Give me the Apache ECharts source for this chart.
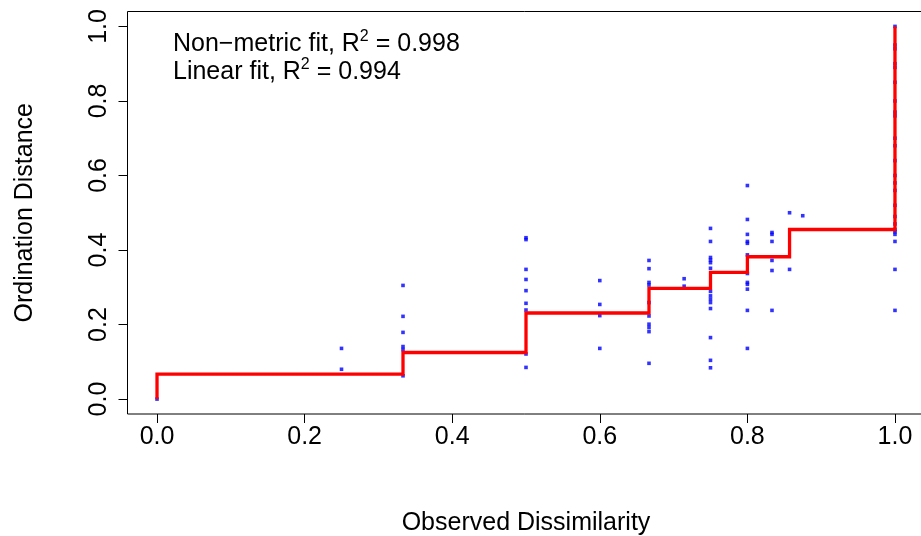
<!DOCTYPE html>
<html>
<head>
<meta charset="utf-8">
<script src="https://cdn.jsdelivr.net/npm/echarts@6/dist/echarts.min.js"></script>
<style>html,body{margin:0;padding:0;background:#fff;}#chart{width:921px;height:536px;}</style>
</head>
<body>
<div id="chart"></div>
<script>
// Observed dissimilarity groups and the ordination distances read for each
const col_000 = [0.0];
const col_250 = [0.136, 0.080];
const col_333 = [0.305, 0.222, 0.179, 0.141, 0.133, 0.0625];
const col_500 = [0.433, 0.428, 0.348, 0.321, 0.291, 0.257, 0.239, 0.121, 0.085];
const col_600 = [0.318, 0.254, 0.224, 0.136];
const col_667 = [0.372, 0.350, 0.313, 0.306, 0.259, 0.223, 0.201, 0.192, 0.181, 0.096];
const col_714 = [0.323, 0.303];
const col_750 = [0.458, 0.423, 0.380, 0.373, 0.366, 0.351, 0.289, 0.277, 0.268, 0.259, 0.243, 0.165, 0.104, 0.084];
const col_800 = [0.573, 0.482, 0.442, 0.423, 0.418, 0.387, 0.337, 0.313, 0.308, 0.295, 0.238, 0.136];
const col_833 = [0.447, 0.442, 0.423, 0.372, 0.345, 0.238];
const col_857 = [0.500, 0.348];
const col_875 = [0.492];
const col_1000 = [1.0, 0.95, 0.94, 0.90, 0.89, 0.85, 0.80, 0.77, 0.76, 0.70, 0.68, 0.64, 0.60, 0.58, 0.56, 0.52, 0.49, 0.47, 0.455, 0.449, 0.442, 0.423, 0.348, 0.238];

const groupX = [0, 0.25, 1/3, 0.5, 0.6, 2/3, 5/7, 0.75, 0.8, 5/6, 6/7, 0.875, 1.0];
const groupY = [col_000, col_250, col_333, col_500, col_600, col_667, col_714, col_750, col_800, col_833, col_857, col_875, col_1000];

// Monotone (non-metric) step fit
const stepX = [0, 0, 1/3, 0.5, 2/3, 0.75, 0.8, 6/7, 1.0];
const stepY = [0, 0.067, 0.125, 0.231, 0.297, 0.340, 0.382, 0.455, 1.0];

const tickValues = [0, 0.2, 0.4, 0.6, 0.8, 1.0];

const points = [];
groupX.forEach((x, i) => groupY[i].forEach(y => points.push([x, y])));
const stepData = stepX.map((x, i) => [x, stepY[i]]);

const FONT = "'Liberation Sans', Arial, Helvetica, sans-serif";
const FS = 25;
const chart = echarts.init(document.getElementById('chart'), null, {renderer: 'canvas'});
const legendRich = {
  t: {fontSize: FS, lineHeight: 28, verticalAlign: 'bottom', fontFamily: FONT, color: '#000'},
  s: {fontSize: 16, lineHeight: 18, verticalAlign: 'top', fontFamily: FONT, color: '#000'}
};
chart.setOption({
  animation: false,
  backgroundColor: '#ffffff',
  grid: {left: 127.5, top: 11.5, width: 797, height: 402.5, show: true, borderColor: '#000', borderWidth: 1,
         backgroundColor: 'transparent', containLabel: false, outerBoundsMode: 'none'},
  xAxis: {
    type: 'value', min: -0.04, max: 1.04,
    name: 'Observed Dissimilarity', nameLocation: 'middle', nameGap: 97,
    nameTextStyle: {fontFamily: FONT, fontSize: FS, color: '#000'},
    axisLine: {show: false, onZero: false},
    axisTick: {show: true, length: 9, inside: false, customValues: tickValues, lineStyle: {color: '#000', width: 1}},
    axisLabel: {customValues: tickValues, margin: 11, fontFamily: FONT, fontSize: FS, color: '#000',
      formatter: v => v.toFixed(1)},
    splitLine: {show: false}
  },
  yAxis: {
    type: 'value', min: -0.04, max: 1.04,
    name: 'Ordination Distance', nameLocation: 'middle', nameGap: 90, nameRotate: 90,
    nameTextStyle: {fontFamily: FONT, fontSize: FS, color: '#000'},
    axisLine: {show: false, onZero: false},
    axisTick: {show: true, length: 9, inside: false, customValues: tickValues, lineStyle: {color: '#000', width: 1}},
    axisLabel: {customValues: tickValues, rotate: 90, margin: 16, fontFamily: FONT, fontSize: FS, color: '#000',
      formatter: v => v.toFixed(1)},
    splitLine: {show: false}
  },
  graphic: [
    {type: 'text', left: 173, top: 29, z: 100, style: {
      text: '{t|Non\u2212metric fit, R}{s|2}{t| = 0.998}', fill: '#000', fontFamily: FONT, rich: legendRich}},
    {type: 'text', left: 173, top: 57, z: 100, style: {
      text: '{t|Linear fit, R}{s|2}{t| = 0.994}', fill: '#000', fontFamily: FONT, rich: legendRich}}
  ],
  series: [
    {type: 'scatter', data: points, symbol: 'rect', symbolSize: 3.6,
     itemStyle: {color: '#0000ff'}, z: 2, silent: true},
    {type: 'line', data: stepData, step: 'end', showSymbol: false, symbol: 'none',
     lineStyle: {color: '#ff0000', width: 3.3, cap: 'butt', join: 'miter'}, z: 3, silent: true}
  ]
});
</script>
</body>
</html>
